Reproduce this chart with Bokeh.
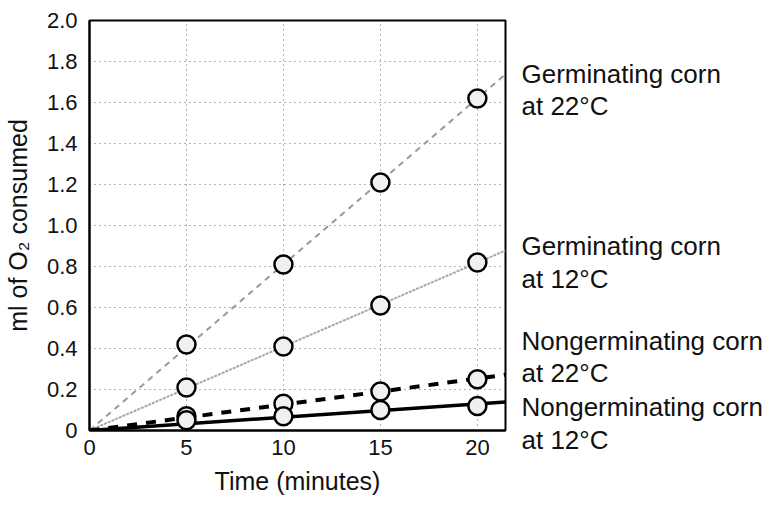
from bokeh.plotting import figure
from bokeh.models import Range1d, FixedTicker, LinearAxis, PrintfTickFormatter
from bokeh.embed import file_html
from bokeh.resources import INLINE

# ---- data ----
time_min = [5, 10, 15, 20]
germ_22 = [0.42, 0.81, 1.21, 1.62]
germ_12 = [0.21, 0.41, 0.61, 0.82]
nongerm_22 = [0.07, 0.13, 0.19, 0.25]
nongerm_12 = [0.05, 0.07, 0.10, 0.12]
series_names = ["Germinating corn\nat 22°C", "Germinating corn\nat 12°C",
                "Nongerminating corn\nat 22°C", "Nongerminating corn\nat 12°C"]
x_ticks = [0, 5, 10, 15, 20]
y_ticks = [0, 0.2, 0.4, 0.6, 0.8, 1.0, 1.2, 1.4, 1.6, 1.8, 2.0]

X_END = 21.45
FONT = "Liberation Sans"

p = figure(width=765, height=498, output_backend="svg", toolbar_location=None,
           x_range=Range1d(0, X_END), y_range=Range1d(0, 2.0),
           min_border_left=89, min_border_right=259, min_border_top=20,
           min_border_bottom=68)
p.outline_line_color = "black"
p.outline_line_width = 2
p.background_fill_color = "white"
p.border_fill_color = "white"

# axes
p.xaxis.ticker = FixedTicker(ticks=x_ticks)
p.yaxis.ticker = FixedTicker(ticks=y_ticks)
p.yaxis.formatter = PrintfTickFormatter(format="%.1f")
p.yaxis.major_label_overrides = {0: "0"}
for ax in (p.xaxis[0], p.yaxis[0]):
    ax.axis_line_color = "black"
    ax.axis_line_width = 2
    ax.major_tick_line_color = None
    ax.minor_tick_line_color = None
    ax.major_label_text_font = FONT
    ax.major_label_text_font_size = "22px"
    ax.major_label_text_color = "#111111"
    ax.axis_label_text_font = FONT
    ax.axis_label_text_font_size = "25px"
    ax.axis_label_text_font_style = "normal"
    ax.axis_label_text_color = "#111111"
p.xaxis.axis_label = "Time (minutes)"
p.yaxis.axis_label = "ml of O₂ consumed"
p.xaxis.major_label_standoff = 3
p.yaxis.major_label_standoff = 6
p.xaxis.axis_label_standoff = 9
p.yaxis.axis_label_standoff = 12

# grid
for g in (p.xgrid[0], p.ygrid[0]):
    g.grid_line_color = "#666666"
    g.grid_line_dash = "1 4"
    g.grid_line_width = 1
p.xgrid.ticker = FixedTicker(ticks=x_ticks[1:])
p.ygrid.ticker = FixedTicker(ticks=y_ticks[1:-1])

# fitted lines through origin
def slope(xs, ys):
    return sum(a * b for a, b in zip(xs, ys)) / sum(a * a for a in xs)

styles = [
    dict(line_color="#9a9a9a", line_width=2, line_dash="6 5"),
    dict(line_color="#a8a8a8", line_width=2, line_dash="3 1"),
    dict(line_color="black", line_width=4, line_dash="10 9"),
    dict(line_color="black", line_width=3.5, line_dash="solid"),
]
all_series = [germ_22, germ_12, nongerm_22, nongerm_12]
for ys, st in zip(all_series, styles):
    m = slope(time_min, ys)
    p.line([0, X_END], [0, m * X_END], **st)

for ys in all_series:
    p.scatter(time_min, ys, marker="circle", size=18, fill_color="#f0f0f0",
              line_color="black", line_width=2.5)

# right-hand series labels as a right axis
label_centres = [1.66, 0.82, 0.36, 0.034]
rax = LinearAxis(ticker=FixedTicker(ticks=label_centres),
                 major_label_overrides={c: n for c, n in zip(label_centres, series_names)})
rax.axis_line_color = None
rax.major_tick_line_color = None
rax.minor_tick_line_color = None
rax.major_label_standoff = 10
rax.major_label_text_font = FONT
rax.major_label_text_font_size = "26px"
rax.major_label_text_line_height = 1.08
rax.major_label_text_color = "#111111"
rax.major_label_text_align = "left"
p.add_layout(rax, "right")

open("out.html", "w").write(file_html(p, INLINE))
